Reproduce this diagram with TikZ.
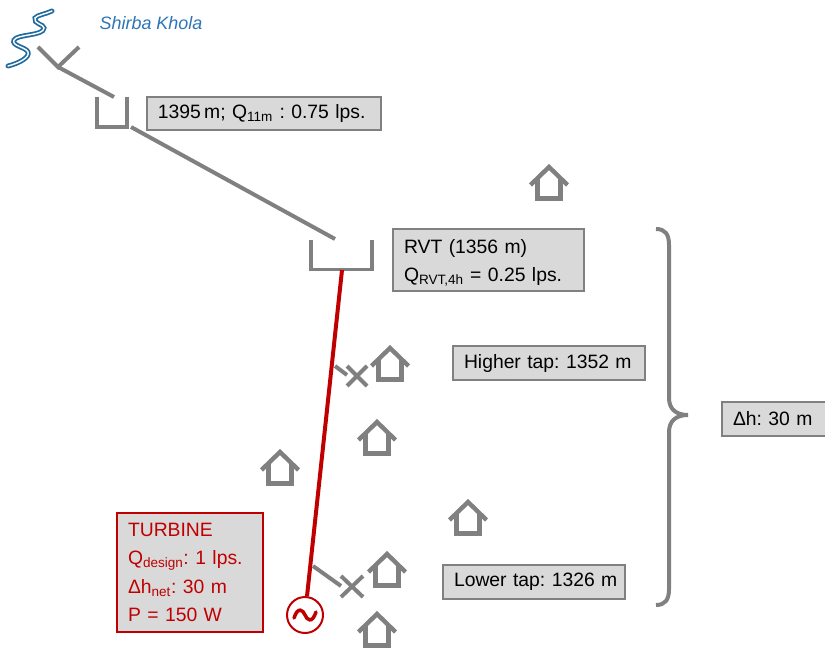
\documentclass[tikz,border=0pt]{standalone}
\usepackage{fontspec}
\setmainfont{Liberation Sans}
\frenchspacing
\definecolor{pipegray}{HTML}{808080}
\definecolor{boxgray}{HTML}{D9D9D9}
\definecolor{penred}{HTML}{C00000}
\definecolor{riverblue}{HTML}{1F6A9E}
\definecolor{namblue}{HTML}{2E75B6}
\tikzset{
	pipe/.style={draw=pipegray, line width=3.4pt},
	infobox/.style={draw=pipegray, line width=1.4pt, fill=boxgray, inner xsep=0.33cm, inner ysep=0pt, align=left,
		font=\fontsize{16.5}{24.4}\selectfont},
	redbox/.style={infobox, draw=penred, text=penred}
}
\begin{document}
\begin{tikzpicture}[line cap=butt, line join=miter, x=0.03cm, y=-0.03cm]
			
			\useasboundingbox (0, 0) rectangle (825, 648);
			\clip (0, 0) rectangle (825, 648);
			
			% Define vertices
			\coordinate (I) at (58, 67);
			\coordinate (Tin) at (114, 97);
			\coordinate (Tout) at (131, 127);
			\coordinate (Rin) at (335, 239);
			\coordinate (Rout) at (342, 270);
			\coordinate (Hin) at (335, 366);
			\coordinate (Hv) at (347, 375);
			\coordinate (Lin) at (313, 566);
			\coordinate (Lv) at (341, 586);
			
			% River
			\draw[riverblue, line width=1.5pt, double=white, double distance=1.2pt, line cap=round]
				(8, 66) .. controls (20, 63) and (30, 57) .. (28, 52)
				.. controls (26, 47) and (11, 46) .. (14, 40)
				.. controls (17, 34) and (44, 36) .. (44, 28)
				.. controls (44, 24) and (33, 24) .. (35, 18)
				.. controls (37, 15) and (46, 14) .. (52, 11);
			\node[font=\fontsize{15.3}{18}\selectfont\itshape, text=namblue] (river) at (151, 23) {Shirba Khola};
			
			% Intake
			\draw[pipe] (38, 47) -- (I) -- (79, 47);
			\draw[pipe] (I) -- (Tin);
			
			% Settling tank and reservoir
			\draw[pipe] (97, 97) -- (97, 127) -- (127, 127) -- (127, 97);
			\draw[pipe] (Tout) -- (Rin);
			\draw[pipe] (311, 240) -- (311, 269.5) -- (372, 269.5) -- (372, 240);
			
			% Generator and penstock
			\node[circle, draw=penred, line width=1.7pt, fill=white, minimum size=1.08cm, inner sep=0pt] (G) at (305, 615) {};
			\draw[penred, line width=3.4pt] (Rout) -- (G);
			\draw[penred, line width=3pt, line cap=round] (294, 618) .. controls (298, 606) and (303, 610) .. (305, 615)
				.. controls (307, 620) and (312, 624) .. (316, 612);
			
			% Taps
			\draw[pipe] (Hin) -- (Hv);
			\draw[pipe] (347, 366) -- (367, 386) (347, 386) -- (367, 366);
			\draw[pipe] (Lin) -- (Lv);
			\draw[pipe] (341, 576) -- (363, 597) (341, 597) -- (363, 576);
			
			% Houses
			\foreach \x/\y in {549/166, 390/347, 377/421, 280/451, 468/501, 387/553, 377/613} {
				\begin{scope}[shift={(\x, \y)}]
					\draw[pipe, line width=3.8pt] (-18.5, 19) -- (0, 1) -- (18.5, 19);
					\draw[pipe, line width=3.8pt] (-11.5, 13) -- (-11.5, 32.5) -- (11.5, 32.5) -- (11.5, 13);
				\end{scope}
			}
			
			% Brace
			\draw[pipe] (656, 229) .. controls (665, 229) and (669, 234) .. (669, 245)
				-- (669, 398) .. controls (669, 409) and (676, 415) .. (688, 415)
				.. controls (676, 415) and (669, 421) .. (669, 432)
				-- (669, 589) .. controls (669, 600) and (665, 605) .. (656, 605);
			
			% Labels
			\node[infobox, text width=6.36cm, minimum height=0.99cm] (tank) at (264, 113.5)
				{1395\,m; Q\textsubscript{11m} : 0.75 lps.};
			\node[infobox, text width=5.07cm, minimum height=1.86cm] (rvt) at (488.5, 260)
				{\rule{0pt}{17pt}RVT (1356 m)\\Q\textsubscript{RVT,4h} = 0.25 lps.};
			\node[infobox, text width=5.1cm, minimum height=1.02cm] (higher) at (549, 363)
				{Higher~tap:~1352~m};
			\node[infobox, text width=4.8cm, minimum height=1.02cm] (lower) at (534, 582)
				{Lower~tap:~1326~m};
			\node[infobox, text width=2.64cm, minimum height=1.02cm] (head) at (777, 419)
				{Δh: 30 m};
			\node[redbox, text width=3.72cm, minimum height=3.57cm] (turbine) at (190, 572.5)
				{TURBINE\\Q\textsubscript{design}: 1 lps.\\Δh\textsubscript{net}: 30 m\\P = 150 W};
			
		\end{tikzpicture}
\end{document}
